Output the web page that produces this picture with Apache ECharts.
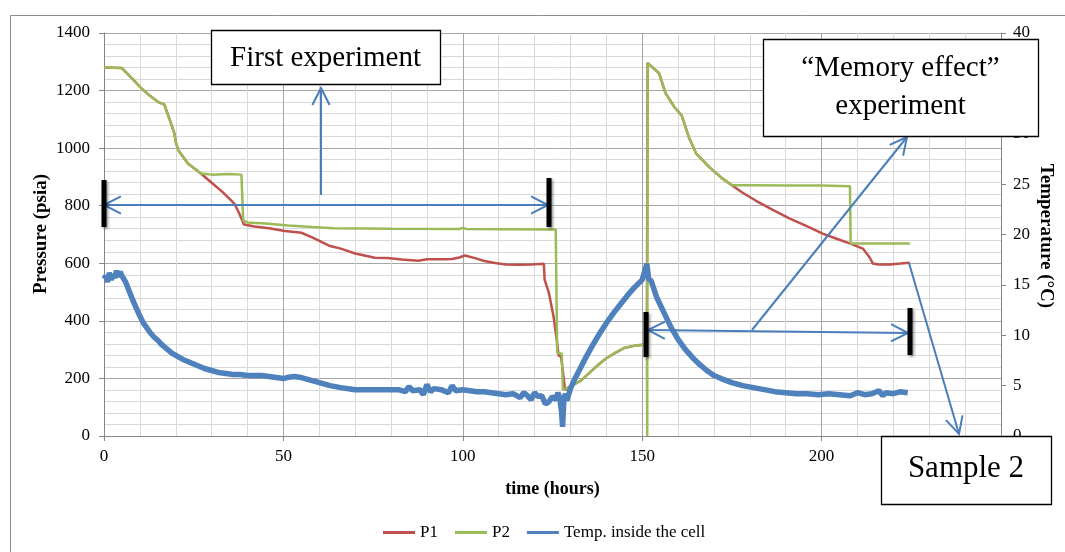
<!DOCTYPE html>
<html>
<head>
<meta charset="utf-8">
<script src="https://cdn.jsdelivr.net/npm/echarts@6/dist/echarts.min.js"></script>
<style>
html,body{margin:0;padding:0;background:#fff;}
#c{width:1065px;height:552px;}
</style>
</head>
<body>
<div id="c"></div>
<script>
// ---- data (time in hours) ----
const seriesNames = ['P1', 'P2', 'Temp. inside the cell'];
const p1 = [
 [0,1280],[5,1278],[8,1240],[10.3,1209],[13,1180],[15.1,1160],[16.8,1152],[18,1110],[19.6,1052],[20.1,1017],[20.7,993],[23.4,947],[27,912],
 [30,880],[33,848],[35.5,818],[36.4,806],[37.7,773],[39,735],[42,728],[46,722],[50.4,712],[55,706],[58,690],[60.6,674],[63,660],[66,651],
 [70,634],[75.5,619],[79,618],[83,613],[87.6,609],[90,614],[95,614],[97,615],[99,620],[100.6,627],[103.4,618],[106,608],[109,601],
 [112,596],[115.6,595],[119,596],[122.6,598],[122.8,543],[124,497],[125.3,414],[126.3,323],[126.7,280],[127.4,275],[128.5,160],
 [130,172],[133,193],[135.5,222],[138,250],[140,270],[142.5,289],[145,306],[148,314],[151.3,318],[151.5,1296],
 [152,1293],[154.7,1260],[156.5,1191],[159,1142],[161,1114],[163,1038],[165,982],[168.7,934],[172.3,895],[175,871],
 [178,845],[181.6,818],[186,788],[191,756],[196,728],[200.3,703],[204,686],[207.8,669],[211.5,651],[213.4,620],[214.3,599],
 [216,596],[219,596],[222,599],[224.6,602]
];
const p2 = [
 [0,1280],[5,1278],[8,1240],[10.3,1209],[13,1180],[15.1,1160],[16.8,1152],[18,1110],[19.6,1052],[20.1,1017],[20.7,993],[23.4,947],[27,912],
 [30,908],[35,910],[38.3,908],[38.8,749],[40,742],[45,738],[51.4,731],[58,726],[64,722],[80,720],[99,719],[100,723],[101,719],
 [124,717],[125.9,717],[126.3,289],[127.6,286],[127.9,160],[128.4,156],
 [130,172],[133,193],[135.5,222],[138,250],[140,270],[142.5,289],[145,306],[148,314],[151.3,318],[151.4,0],[151.5,1296],
 [152,1293],[154.7,1260],[156.5,1191],[159,1142],[161,1114],[163,1038],[165,982],[168.7,934],[172.3,895],[175,871],
 [180,871],[190,870],[200,870],[207.9,868],[208.1,669],[215,669],[224.6,669]
];
const temp = [
 [0,15.6],[0.5,15.9],[1,15.3],[1.5,16.2],[2,15.5],[2.5,16.0],[3,15.7],[3.5,16.4],[4,15.8],[4.5,16.3],[5,15.9],
 [6,15.3],[7,14.4],[8,13.5],[9,12.7],[10,11.9],[11,11.2],[12,10.7],[13,10.2],[14,9.8],[15,9.5],[16,9.1],[17,8.8],[18,8.5],[19,8.2],[20,8.0],
 [22,7.6],[24,7.3],[26,7.0],[28,6.7],[30,6.5],[32,6.3],[34,6.2],[36,6.1],[38,6.1],[40,6.0],[42,6.0],[44,6.0],[46,5.9],[48,5.8],[50,5.7],
 [51,5.8],[53,5.9],[55,5.8],[57,5.6],[60,5.3],[63,5.0],[66,4.8],[70,4.6],[74,4.6],[78,4.6],[82,4.6],[84,4.4],[85,4.9],[86,4.5],[88,4.6],
 [89,4.1],[90,5.1],[91,4.4],[92,4.7],[94,4.6],[96,4.3],[97,5.0],[98,4.5],[100,4.6],[102,4.5],[104,4.4],[106,4.4],[108,4.3],[110,4.2],
 [112,4.1],[114,4.2],[116,3.8],[117,4.3],[118,4.0],[119,3.6],[120,4.3],[121,3.9],[122,4.0],[123,3.2],[124,3.4],[125,3.9],[126,3.6],
 [126.5,4.3],[127,3.8],[127.5,2.5],[127.8,0.9],[128.2,3.7],[128.6,4.2],[129,3.5],[130,4.7],[131,5.5],[132,6.2],[133,6.9],[134,7.6],
 [136,8.9],[138,10.1],[140,11.2],[142,12.2],[144,13.1],[146,14.0],[148,14.8],[150,15.5],[151.3,17.1],[151.8,15.6],[152.5,15.4],
 [154,13.8],[156,12.3],[158,10.8],[160,9.6],[162,8.6],[164,7.8],[166,7.1],[168,6.5],[170,6.0],[172,5.7],[175,5.3],[178,5.0],[181,4.8],
 [184,4.6],[187,4.4],[190,4.3],[193,4.2],[196,4.2],[199,4.1],[202,4.2],[205,4.1],[208,4.0],[210,4.3],[212,4.1],[214,4.2],[216,4.5],
 [217,4.0],[218,4.3],[220,4.2],[222,4.4],[224,4.3]
];
const xTicks = {min: 0, max: 250, interval: 50};
const pTicks = {min: 0, max: 1400, interval: 200};
const tTicks = {min: 0, max: 40, interval: 5};

// ---- layout / annotation geometry (pixels) ----
const FONT = "'Liberation Serif','Times New Roman',serif";
const ARROW = '#4a7ebb';
const arrows = [
 {from:[104,205], to:[548,205], both:true},
 {from:[321,195], to:[321,88]},
 {from:[648,330], to:[908,333], both:true},
 {from:[752,330], to:[907,137]},
 {from:[909,263], to:[959,434]}
];
const bars = [[104,180,227],[549,178,227],[646,312,357],[910,308,355]];

function head(tip, from){
  const L = 19, a = 27*Math.PI/180;
  const ang = Math.atan2(from[1]-tip[1], from[0]-tip[0]);
  return [[tip[0]+L*Math.cos(ang+a), tip[1]+L*Math.sin(ang+a)], tip, [tip[0]+L*Math.cos(ang-a), tip[1]+L*Math.sin(ang-a)]];
}
const graphic = [];
graphic.push({type:'rect', z:-1, shape:{x:10.5,y:15.5,width:1100,height:600}, style:{fill:'none',stroke:'#8c8c8c',lineWidth:1}});
arrows.forEach(a=>{
  graphic.push({type:'line', z:50, shape:{x1:a.from[0],y1:a.from[1],x2:a.to[0],y2:a.to[1]}, style:{stroke:ARROW,lineWidth:2}});
  graphic.push({type:'polyline', z:50, shape:{points:head(a.to,a.from)}, style:{stroke:ARROW,lineWidth:2,fill:'none'}});
  if(a.both) graphic.push({type:'polyline', z:50, shape:{points:head(a.from,a.to)}, style:{stroke:ARROW,lineWidth:2,fill:'none'}});
});
bars.forEach(b=>{
  graphic.push({type:'rect', z:60, shape:{x:b[0]-2.5,y:b[1],width:5,height:b[2]-b[1]}, style:{fill:'#000',shadowBlur:3,shadowColor:'rgba(0,0,0,0.45)',shadowOffsetX:1.5,shadowOffsetY:1.5}});
});
function box(x,y,w,h,lines,size,firstBase,lh){
  graphic.push({type:'rect', z:70, shape:{x:x+0.5,y:y+0.5,width:w,height:h}, style:{fill:'#fff',stroke:'#000',lineWidth:1.3}});
  lines.forEach((t,i)=>{
    graphic.push({type:'text', z:71, x:x+w/2, y:firstBase+i*lh, style:{text:t, font:size+'px '+FONT, fill:'#000', textAlign:'center', textVerticalAlign:'bottom'}});
  });
}
box(211,30,229,54,['First experiment'],29,73,0);
box(763,39,275,97,['\u201cMemory effect\u201d','experiment'],29,83,38);
box(881,436,170,68,['Sample 2'],31,484,0);
graphic.push({type:'text', z:5, x:1046, y:236, rotation:-Math.PI/2, style:{text:'Temperature (\u00b0C)', font:'bold 19px '+FONT, fill:'#000', textAlign:'center', textVerticalAlign:'middle'}});
graphic.push({type:'text', z:5, x:41, y:234, rotation:Math.PI/2, style:{text:'Pressure (psia)', font:'bold 19px '+FONT, fill:'#000', textAlign:'center', textVerticalAlign:'middle'}});

const plain = v => String(v);
const chart = echarts.init(document.getElementById('c'), null, {renderer:'canvas'});
chart.setOption({
  animation:false,
  backgroundColor:'#fff',
  textStyle:{fontFamily:FONT},
  grid:{left:104, right:64, top:33, bottom:116, containLabel:false},
  legend:{
    data: seriesNames, top: 524, left: 383, padding: 0, itemWidth: 32, itemHeight: 3, itemGap: 17, icon:'rect',
    textStyle:{fontFamily:FONT, fontSize:17, color:'#000'}
  },
  xAxis:{
    type:'value', min:xTicks.min, max:xTicks.max, interval:xTicks.interval,
    name:'time (hours)', nameLocation:'middle', nameGap:44,
    nameTextStyle:{fontFamily:FONT, fontWeight:'bold', fontSize:18, color:'#000'},
    axisLine:{lineStyle:{color:'#868686'}}, axisTick:{show:true, length:5, lineStyle:{color:'#868686'}},
    axisLabel:{color:'#000', fontFamily:FONT, fontSize:17, margin:12, formatter:plain},
    splitLine:{show:true, lineStyle:{color:'#a6a6a6'}},
    minorTick:{show:false, splitNumber:5},
    minorSplitLine:{show:true, lineStyle:{color:'#d9d9d9'}}
  },
  yAxis:[{
    type:'value', min:pTicks.min, max:pTicks.max, interval:pTicks.interval,
    axisLine:{show:true, lineStyle:{color:'#868686'}}, axisTick:{show:true, length:5, lineStyle:{color:'#868686'}},
    axisLabel:{color:'#000', fontFamily:FONT, fontSize:17, margin:14, formatter:plain},
    splitLine:{show:true, lineStyle:{color:'#a6a6a6'}},
    minorTick:{show:false, splitNumber:5},
    minorSplitLine:{show:true, lineStyle:{color:'#d9d9d9'}}
  },{
    type:'value', position:'right', min:tTicks.min, max:tTicks.max, interval:tTicks.interval,
    axisLine:{show:true, lineStyle:{color:'#868686'}}, axisTick:{show:true, length:5, lineStyle:{color:'#868686'}},
    axisLabel:{color:'#000', fontFamily:FONT, fontSize:17, margin:12, formatter:plain},
    splitLine:{show:false}
  }],
  series:[
    {name:seriesNames[0], type:'line', data:p1, yAxisIndex:0, showSymbol:false, symbol:'none', color:'#c0504d', lineStyle:{width:2.5,color:'#c0504d'}, z:2},
    {name:seriesNames[1], type:'line', data:p2, yAxisIndex:0, showSymbol:false, symbol:'none', color:'#9bbb59', lineStyle:{width:2.5,color:'#9bbb59'}, z:3},
    {name:seriesNames[2], type:'line', data:temp, yAxisIndex:1, showSymbol:false, symbol:'none', color:'#4f81bd', lineStyle:{width:5.5,color:'#4f81bd'}, z:4}
  ],
  graphic: graphic
});
</script>
</body>
</html>
